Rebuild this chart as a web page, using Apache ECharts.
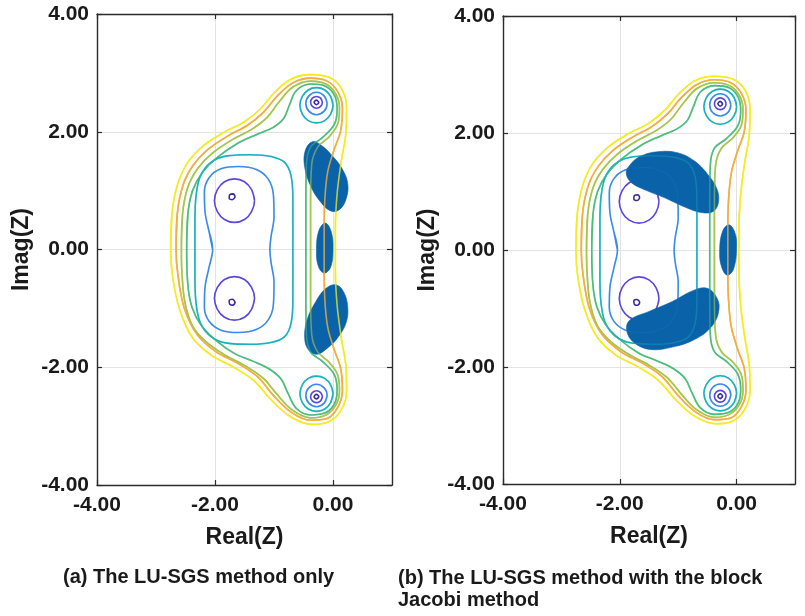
<!DOCTYPE html>
<html><head><meta charset="utf-8">
<script src="https://cdn.jsdelivr.net/npm/echarts/dist/echarts.min.js"></script>
<style>html,body{margin:0;padding:0;background:#fff}#c{width:805px;height:616px}</style>
</head><body><div id="c"></div>
<script>
// ---------- tick labels ----------
const xTickValues = [-4, -2, 0];
const yTickValues = [-4, -2, 0, 2, 4];
const captionA = '(a) The LU-SGS method only';
const captionB = '(b) The LU-SGS method with the block\nJacobi method';

// ---------- contour levels (same level set in both panels) ----------
const contourYellow = [[-2.75,0],[-2.73,0.6],[-2.63,1.12],[-2.46,1.48],[-2.2,1.76],[-1.85,1.99],[-1.5,2.17],[-1.22,2.4],[-0.98,2.68],[-0.7,2.9],[-0.38,2.97],[-0.06,2.92],[0.14,2.74],[0.23,2.42],[0.22,2.0],[0.14,1.5],[0.07,0.95],[0.04,0.35],[0.04,-0.35],[0.07,-0.95],[0.14,-1.5],[0.22,-2.0],[0.23,-2.42],[0.13,-2.74],[-0.08,-2.93],[-0.36,-2.97],[-0.72,-2.84],[-1.04,-2.56],[-1.35,-2.22],[-1.7,-1.99],[-2.06,-1.8],[-2.38,-1.5],[-2.6,-1.02],[-2.72,-0.45],[-2.75,0]];
const contourOrange = [[-2.66,0],[-2.64,0.6],[-2.54,1.1],[-2.37,1.43],[-2.12,1.7],[-1.78,1.93],[-1.45,2.11],[-1.18,2.33],[-0.95,2.6],[-0.68,2.83],[-0.38,2.91],[-0.1,2.86],[0.08,2.68],[0.16,2.4],[0.13,2.02],[0.02,1.7],[-0.09,1.32],[-0.14,0.82],[-0.15,0.3],[-0.15,-0.3],[-0.14,-0.82],[-0.09,-1.32],[0.02,-1.7],[0.13,-2.02],[0.16,-2.4],[0.08,-2.68],[-0.1,-2.87],[-0.38,-2.9],[-0.7,-2.77],[-1.0,-2.49],[-1.28,-2.16],[-1.62,-1.93],[-1.98,-1.74],[-2.3,-1.45],[-2.52,-1.0],[-2.63,-0.42],[-2.66,0]];
const contourLime = [[-2.57,0],[-2.55,0.6],[-2.46,1.06],[-2.29,1.38],[-2.04,1.64],[-1.7,1.87],[-1.38,2.04],[-1.12,2.24],[-0.92,2.5],[-0.68,2.76],[-0.38,2.86],[-0.12,2.81],[0.05,2.64],[0.11,2.4],[0.08,2.13],[-0.06,1.92],[-0.26,1.74],[-0.36,1.45],[-0.38,0.85],[-0.38,0.3],[-0.38,-0.3],[-0.38,-0.85],[-0.36,-1.45],[-0.26,-1.74],[-0.06,-1.92],[0.08,-2.13],[0.11,-2.4],[0.05,-2.64],[-0.12,-2.81],[-0.38,-2.86],[-0.7,-2.72],[-0.95,-2.46],[-1.18,-2.19],[-1.48,-1.98],[-1.82,-1.8],[-2.15,-1.57],[-2.38,-1.3],[-2.51,-0.9],[-2.56,-0.4],[-2.57,0]];
const contourGreen = [[-2.48,0],[-2.46,0.6],[-2.38,1.0],[-2.22,1.3],[-1.98,1.55],[-1.62,1.8],[-1.3,1.95],[-1.02,2.07],[-0.84,2.22],[-0.74,2.45],[-0.62,2.7],[-0.38,2.81],[-0.12,2.77],[0.03,2.61],[0.07,2.38],[0.02,2.12],[-0.18,1.9],[-0.38,1.74],[-0.45,1.45],[-0.46,0.85],[-0.46,0.3],[-0.46,-0.3],[-0.46,-0.85],[-0.45,-1.45],[-0.38,-1.74],[-0.18,-1.9],[0.02,-2.12],[0.07,-2.38],[0.03,-2.61],[-0.12,-2.77],[-0.38,-2.81],[-0.62,-2.7],[-0.76,-2.45],[-0.88,-2.2],[-1.08,-2.03],[-1.35,-1.9],[-1.68,-1.76],[-2.0,-1.53],[-2.24,-1.28],[-2.39,-0.98],[-2.46,-0.6],[-2.48,0]];
const contourTeal = [[-2.34,0],[-2.34,0.5],[-2.32,0.92],[-2.25,1.24],[-2.08,1.47],[-1.8,1.59],[-1.4,1.61],[-1.05,1.58],[-0.82,1.48],[-0.71,1.25],[-0.68,0.85],[-0.68,0.3],[-0.68,-0.3],[-0.68,-0.85],[-0.71,-1.25],[-0.82,-1.48],[-1.05,-1.58],[-1.4,-1.61],[-1.8,-1.59],[-2.08,-1.47],[-2.25,-1.24],[-2.32,-0.92],[-2.34,-0.5],[-2.34,0]];
const contourBlue = [[-2.04,0],[-2.1,0.3],[-2.17,0.65],[-2.18,0.98],[-2.1,1.22],[-1.9,1.37],[-1.6,1.41],[-1.3,1.36],[-1.1,1.2],[-1.01,0.93],[-1.0,0.55],[-1.05,0.22],[-1.07,0],[-1.05,-0.22],[-1.0,-0.55],[-1.01,-0.93],[-1.1,-1.2],[-1.3,-1.36],[-1.6,-1.41],[-1.9,-1.37],[-2.1,-1.22],[-2.18,-0.98],[-2.17,-0.65],[-2.1,-0.3],[-2.04,0]];
// rings round the two inner minima
const ringPurpleUp = [[-1.33,0.83],[-1.38,1.015],[-1.5,1.15],[-1.67,1.2],[-1.84,1.15],[-1.96,1.015],[-2.01,0.83],[-1.96,0.645],[-1.84,0.51],[-1.67,0.46],[-1.5,0.51],[-1.38,0.645]];
const ringPurpleDown = [[-1.33,-0.83],[-1.38,-1.015],[-1.5,-1.15],[-1.67,-1.2],[-1.84,-1.15],[-1.96,-1.015],[-2.01,-0.83],[-1.96,-0.645],[-1.84,-0.51],[-1.67,-0.46],[-1.5,-0.51],[-1.38,-0.645]];
const ringDarkUp = [[-1.66,0.9],[-1.69,0.945],[-1.75,0.93],[-1.76,0.87],[-1.71,0.845]];
const ringDarkDown = [[-1.66,-0.9],[-1.69,-0.945],[-1.75,-0.93],[-1.76,-0.87],[-1.71,-0.845]];
// rings round the two outer minima
const poleTealUp = [[0.0,2.45],[-0.04,2.6],[-0.14,2.71],[-0.28,2.75],[-0.42,2.71],[-0.52,2.6],[-0.56,2.45],[-0.52,2.3],[-0.42,2.19],[-0.28,2.15],[-0.14,2.19],[-0.04,2.3]];
const poleTealDown = [[0.0,-2.45],[-0.04,-2.6],[-0.14,-2.71],[-0.28,-2.75],[-0.42,-2.71],[-0.52,-2.6],[-0.56,-2.45],[-0.52,-2.3],[-0.42,-2.19],[-0.28,-2.15],[-0.14,-2.19],[-0.04,-2.3]];
const poleBlueUp = [[-0.10,2.48],[-0.15,2.61],[-0.28,2.67],[-0.41,2.61],[-0.46,2.48],[-0.41,2.35],[-0.28,2.29],[-0.15,2.35]];
const poleBlueDown = [[-0.10,-2.48],[-0.15,-2.61],[-0.28,-2.67],[-0.41,-2.61],[-0.46,-2.48],[-0.41,-2.35],[-0.28,-2.29],[-0.15,-2.35]];
const polePurpleUp = [[-0.18,2.5],[-0.21,2.57],[-0.28,2.6],[-0.35,2.57],[-0.38,2.5],[-0.35,2.43],[-0.28,2.4],[-0.21,2.43]];
const polePurpleDown = [[-0.18,-2.5],[-0.21,-2.57],[-0.28,-2.6],[-0.35,-2.57],[-0.38,-2.5],[-0.35,-2.43],[-0.28,-2.4],[-0.21,-2.43]];
const poleDarkUp = [[-0.24,2.5],[-0.28,2.54],[-0.32,2.5],[-0.28,2.46]];
const poleDarkDown = [[-0.24,-2.5],[-0.28,-2.54],[-0.32,-2.5],[-0.28,-2.46]];

// ---------- filled regions ----------
const blobsA = [
  [[-0.35,1.83],[-0.2,1.77],[-0.02,1.6],[0.15,1.38],[0.25,1.12],[0.22,0.85],[0.1,0.67],[-0.05,0.66],[-0.22,0.82],[-0.38,1.08],[-0.48,1.4],[-0.47,1.68]],
  [[0.0,0.0],[-0.03,0.3],[-0.13,0.45],[-0.24,0.32],[-0.28,0.0],[-0.25,-0.28],[-0.15,-0.4],[-0.04,-0.3]],
  [[0.05,-0.6],[0.18,-0.72],[0.25,-0.98],[0.22,-1.25],[0.08,-1.5],[-0.1,-1.68],[-0.28,-1.78],[-0.42,-1.7],[-0.48,-1.5],[-0.44,-1.2],[-0.3,-0.9],[-0.12,-0.66]]
];
const blobsB = [
  [[-1.89,1.31],[-1.83,1.45],[-1.65,1.6],[-1.35,1.68],[-1.0,1.66],[-0.72,1.52],[-0.5,1.3],[-0.34,1.05],[-0.31,0.82],[-0.4,0.66],[-0.6,0.64],[-0.9,0.74],[-1.25,0.9],[-1.55,1.02],[-1.8,1.15]],
  [[0.0,0.05],[-0.03,0.3],[-0.13,0.43],[-0.24,0.32],[-0.29,0.0],[-0.26,-0.28],[-0.16,-0.43],[-0.05,-0.32]],
  [[-0.52,-0.65],[-0.36,-0.78],[-0.3,-1.0],[-0.42,-1.3],[-0.72,-1.53],[-1.1,-1.66],[-1.48,-1.7],[-1.76,-1.58],[-1.88,-1.38],[-1.83,-1.2],[-1.5,-1.05],[-1.1,-0.88],[-0.76,-0.7]]
];

// ---------- styles ----------
const FONT = "'Liberation Sans', Arial, Helvetica, sans-serif";
const TXT = '#1a1a1a';
const FRAME = '#2b2b2b';
const BLOB = '#0a62a9';
const C = {dark:'#3d2a9a', purple:'#5b47e0', blue:'#3a8cec', teal:'#1bb3c0', green:'#4dbd7c', lime:'#a4c64c', orange:'#f3ae3e', yellow:'#f4ec22'};
// how much each level shows through the filled regions
const SHOW = {dark:0, purple:0, blue:0.12, teal:0.35, green:0.5, lime:0.6, orange:0.8, yellow:0.75};

function loop(p){ return p.concat([p[1]]); }
function ring(p){ return p.concat([p[0], p[1]]); }

const curves = [
  {d: loop(contourYellow), k:'yellow'},
  {d: loop(contourOrange), k:'orange'},
  {d: loop(contourLime), k:'lime'},
  {d: loop(contourGreen), k:'green'},
  {d: loop(contourTeal), k:'teal'},
  {d: loop(contourBlue), k:'blue'},
  {d: ring(ringPurpleUp), k:'purple'},
  {d: ring(ringPurpleDown), k:'purple'},
  {d: ring(ringDarkUp), k:'dark'},
  {d: ring(ringDarkDown), k:'dark'},
  {d: ring(poleTealUp), k:'teal'},
  {d: ring(poleTealDown), k:'teal'},
  {d: ring(poleBlueUp), k:'blue'},
  {d: ring(poleBlueDown), k:'blue'},
  {d: ring(polePurpleUp), k:'purple'},
  {d: ring(polePurpleDown), k:'purple'},
  {d: ring(poleDarkUp), k:'dark'},
  {d: ring(poleDarkDown), k:'dark'}
];

const fmt = v => v.toFixed(2);
const tickFont = {fontSize: 21, fontWeight: 'bold', color: TXT, fontFamily: FONT};
const nameFont = {fontSize: 23, fontWeight: 'bold', color: TXT, fontFamily: FONT};
const frameLine = {show:true, onZero:false, lineStyle:{color:FRAME, width:1.4}};
const frameTick = {show:true, inside:true, length:5, lineStyle:{color:FRAME, width:1.2}};

function xAxes(g){
  return [
    {gridIndex:g, type:'value', min:-4, max:1, interval:2, position:'bottom',
     axisLine:frameLine, axisTick:frameTick,
     axisLabel:Object.assign({formatter: v => xTickValues.includes(v) ? fmt(v) : '', margin:10, showMaxLabel:false}, tickFont),
     splitLine:{show:true, lineStyle:{color:'#e3e3e3', width:1}},
     name:'Real(Z)', nameLocation:'middle', nameGap:41, nameTextStyle:nameFont},
    {gridIndex:g, type:'value', min:-4, max:1, interval:2, position:'top',
     axisLine:frameLine, axisTick:frameTick, axisLabel:{show:false}, splitLine:{show:false}}
  ];
}
function yAxes(g){
  return [
    {gridIndex:g, type:'value', min:-4, max:4, interval:2, position:'left',
     axisLine:frameLine, axisTick:frameTick,
     axisLabel:Object.assign({formatter: v => yTickValues.includes(v) ? fmt(v) : '', margin:8}, tickFont),
     splitLine:{show:true, lineStyle:{color:'#e3e3e3', width:1}},
     name:'Imag(Z)', nameLocation:'middle', nameGap:64, nameRotate:90, nameTextStyle:nameFont},
    {gridIndex:g, type:'value', min:-4, max:4, interval:2, position:'right',
     axisLine:frameLine, axisTick:frameTick, axisLabel:{show:false}, splitLine:{show:false}}
  ];
}

const series = [];
function lineSeries(g, cv, z, opacity){
  return {
    type:'line', xAxisIndex:g*2, yAxisIndex:g*2, data: cv.d, smooth:0.36,
    showSymbol:false, symbol:'none', silent:true, z:z, clip:true,
    lineStyle:{color:C[cv.k], width:1.6, opacity:opacity}
  };
}
[blobsA, blobsB].forEach((blobs, g) => {
  // contour lines
  curves.forEach(cv => series.push(lineSeries(g, cv, 2, 1)));
  // filled regions on top of them
  series.push({
    type:'custom', xAxisIndex:g*2, yAxisIndex:g*2, silent:true, z:3, clip:true,
    data: blobs.map((b, i) => [i, 0]),
    renderItem: (params, api) => ({
      type:'polygon',
      shape:{points: blobs[params.dataIndex].map(p => api.coord(p)), smooth:0.4},
      style:{fill:BLOB, stroke:BLOB, lineWidth:0.6}
    })
  });
  // brighter levels partly showing through the filled regions
  curves.forEach(cv => { if (SHOW[cv.k] > 0) series.push(lineSeries(g, cv, 4, SHOW[cv.k])); });
});

const chart = echarts.init(document.getElementById('c'), null, {renderer:'canvas'});
chart.setOption({
  animation:false,
  backgroundColor:'#ffffff',
  grid:[
    {left:97, top:14, width:295, height:471},
    {left:503, top:16, width:292, height:468}
  ],
  xAxis: xAxes(0).concat(xAxes(1)),
  yAxis: yAxes(0).concat(yAxes(1)),
  title:[
    {text:captionA, left:63, top:567, padding:0, textStyle:{fontSize:20, fontWeight:'bold', color:TXT, fontFamily:FONT}},
    {text:captionB, left:398, top:567, padding:0, textStyle:{fontSize:20, fontWeight:'bold', color:TXT, fontFamily:FONT, lineHeight:22}}
  ],
  series: series
});
</script></body></html>
